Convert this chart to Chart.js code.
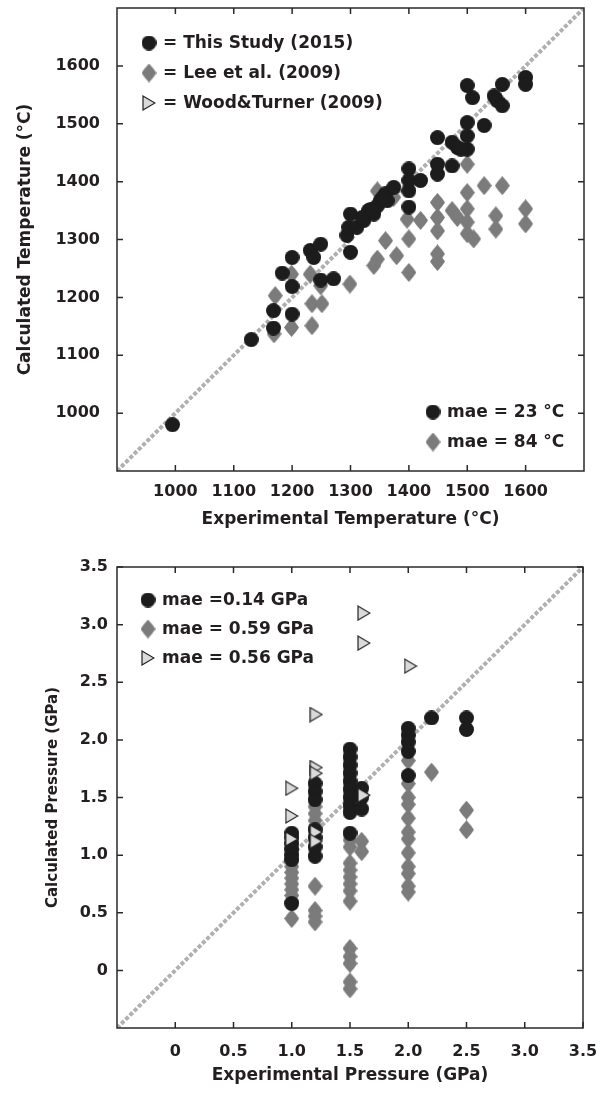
<!DOCTYPE html>
<html>
<head>
<meta charset="utf-8">
<title>Temperature and pressure: calculated vs experimental</title>
<script src="https://cdn.jsdelivr.net/npm/chart.js@4.4.1/dist/chart.umd.min.js"></script>
<style>
  html, body { margin: 0; padding: 0; background: #fff; }
  #wrap { position: relative; width: 603px; height: 1099px; }
  .panel { position: absolute; left: 0; width: 603px; }
  #panel-t { top: 0; height: 540px; }
  #panel-p { top: 540px; height: 559px; }
</style>
</head>
<body>
<div id="wrap">
  <div class="panel" id="panel-t"><canvas id="temp-chart"></canvas></div>
  <div class="panel" id="panel-p"><canvas id="pres-chart"></canvas></div>
</div>
<script>
// ---- temperature panel (°C) ----
const tempRange = [900, 1700];
const tempTicks = [1000, 1100, 1200, 1300, 1400, 1500, 1600];

const studyTExp = [
  995, 1130, 1168, 1168, 1200, 1200, 1183, 1200, 1231, 1237,
  1249, 1249, 1271, 1300, 1294, 1300, 1297, 1311, 1323, 1331,
  1340, 1346, 1351, 1360, 1374, 1363, 1320, 1335, 1355, 1400,
  1400, 1400, 1400, 1420, 1449, 1449, 1449, 1474, 1474, 1483,
  1500, 1500, 1500, 1489, 1529, 1500, 1509, 1546, 1551, 1560,
  1560, 1600, 1600
];
const studyTCalc = [
  980, 1127, 1147, 1177, 1171, 1219, 1242, 1269, 1281, 1269,
  1292, 1230, 1232, 1278, 1307, 1344, 1321, 1321, 1333, 1350,
  1344, 1358, 1367, 1379, 1390, 1367, 1338, 1352, 1372, 1422,
  1402, 1384, 1356, 1402, 1476, 1430, 1413, 1427, 1468, 1459,
  1502, 1479, 1456, 1456, 1497, 1566, 1545, 1548, 1540, 1568,
  1531, 1580, 1568
];
const leeTExp = [
  1171, 1169, 1199, 1199, 1231, 1234, 1251, 1234, 1249, 1299,
  1340, 1346, 1360, 1379, 1400, 1400, 1449, 1449, 1397, 1420,
  1449, 1449, 1449, 1474, 1483, 1500, 1500, 1500, 1500, 1511,
  1500, 1529, 1560, 1549, 1549, 1600, 1600, 1346, 1374
];
const leeTCalc = [
  1203, 1137, 1240, 1148, 1240, 1189, 1189, 1151, 1220, 1223,
  1255, 1266, 1298, 1272, 1301, 1243, 1275, 1262, 1335, 1333,
  1364, 1338, 1315, 1350, 1338, 1381, 1353, 1330, 1310, 1301,
  1430, 1393, 1393, 1341, 1318, 1353, 1327, 1384, 1373
];

// ---- pressure panel (GPa) ----
const presRange = [-0.5, 3.5];
const presTicks = [0, 0.5, 1.0, 1.5, 2.0, 2.5, 3.0, 3.5];
const presTickLabels = ['0', '0.5', '1.0', '1.5', '2.0', '2.5', '3.0', '3.5'];

const studyPExp = [
  1.0, 1.0, 1.0, 1.0, 1.0, 1.0, 1.0,
  1.2, 1.2, 1.2, 1.2, 1.2, 1.2, 1.2,
  1.5, 1.5, 1.5, 1.5, 1.5, 1.5, 1.5, 1.5, 1.5, 1.5,
  1.6, 1.6, 1.6,
  2.0, 2.0, 2.0, 2.0, 2.0,
  2.2,
  2.5, 2.5
];
const studyPCalc = [
  1.19, 1.15, 1.10, 1.05, 1.00, 0.96, 0.58,
  1.62, 1.55, 1.48, 1.22, 1.15, 1.07, 0.99,
  1.92, 1.85, 1.78, 1.71, 1.64, 1.57, 1.50, 1.43, 1.37, 1.19,
  1.58, 1.50, 1.40,
  2.10, 2.04, 1.98, 1.90, 1.69,
  2.19,
  2.19, 2.09
];
const leePExp = [
  1.0, 1.0, 1.0, 1.0, 1.0, 1.0, 1.0, 1.0, 1.0,
  1.2, 1.2, 1.2, 1.2, 1.2, 1.2, 1.2, 1.2,
  1.5, 1.5, 1.5, 1.5, 1.5, 1.5, 1.5, 1.5, 1.5, 1.5, 1.5, 1.5, 1.5,
  1.6, 1.6,
  2.0, 2.0, 2.0, 2.0, 2.0, 2.0, 2.0, 2.0, 2.0, 2.0, 2.0, 2.0,
  2.2,
  2.5, 2.5
];
const leePCalc = [
  0.95, 0.90, 0.85, 0.80, 0.75, 0.70, 0.65, 0.60, 0.45,
  1.42, 1.36, 1.30, 1.24, 0.73, 0.52, 0.47, 0.42,
  1.13, 1.07, 0.93, 0.87, 0.81, 0.75, 0.69, 0.60, 0.19, 0.12, 0.06, -0.10, -0.16,
  1.12, 1.03,
  1.82, 1.62, 1.50, 1.44, 1.32, 1.20, 1.14, 1.02, 0.90, 0.84, 0.73, 0.68,
  1.72,
  1.39, 1.22
];
const woodPExp = [1.0, 1.0, 1.0, 1.21, 1.21, 1.21, 1.21, 1.21, 1.62, 1.62, 2.02, 1.62];
const woodPCalc = [1.58, 1.34, 1.14, 2.22, 1.76, 1.71, 1.20, 1.12, 3.10, 2.84, 2.64, 1.52];

const FONT = "'DejaVu Sans', sans-serif";
const INK = '#231f20';

// marker glyphs, drawn once on small canvases
function makeCircle(d, color) {
  const c = document.createElement('canvas');
  c.width = d; c.height = d;
  const g = c.getContext('2d');
  g.fillStyle = color;
  g.beginPath();
  g.arc(d / 2, d / 2, d / 2, 0, Math.PI * 2);
  g.fill();
  return c;
}
// slightly bulging diamond, taller than wide
function makeDiamond(w, h, color) {
  const c = document.createElement('canvas');
  c.width = w; c.height = h;
  const g = c.getContext('2d');
  g.fillStyle = color;
  g.beginPath();
  g.moveTo(w / 2, 0);
  g.lineTo(w * 0.8, h * 0.28);
  g.lineTo(w, h / 2);
  g.lineTo(w * 0.8, h * 0.72);
  g.lineTo(w / 2, h);
  g.lineTo(w * 0.2, h * 0.72);
  g.lineTo(0, h / 2);
  g.lineTo(w * 0.2, h * 0.28);
  g.closePath();
  g.fill();
  return c;
}
function makeTriangle(w, h, fill, stroke) {
  const c = document.createElement('canvas');
  c.width = w; c.height = h;
  const g = c.getContext('2d');
  g.fillStyle = fill;
  g.strokeStyle = stroke;
  g.lineWidth = 1.2;
  g.beginPath();
  g.moveTo(1, 1);
  g.lineTo(w - 1, h / 2);
  g.lineTo(1, h - 1);
  g.closePath();
  g.fill();
  g.stroke();
  return c;
}

const dotBlack = makeCircle(15, '#1c1c1c');
const diamondGrey = makeDiamond(15, 19, '#7b7b7b');
const triLight = makeTriangle(14, 16, '#dadada', '#222');

const pairs = (xs, ys) => xs.map((x, i) => ({ x: x, y: ys[i] }));

// plot frame with inward ticks on all four sides
const framePlugin = {
  id: 'frame',
  afterDatasetsDraw(chart) {
    const { ctx, chartArea: a, scales: { x, y } } = chart;
    const len = 6;
    ctx.save();
    ctx.strokeStyle = '#2a2a2a';
    ctx.lineWidth = 1.5;
    ctx.beginPath();
    x.ticks.forEach(t => {
      const px = x.getPixelForValue(t.value);
      ctx.moveTo(px, a.bottom); ctx.lineTo(px, a.bottom - len);
      ctx.moveTo(px, a.top); ctx.lineTo(px, a.top + len);
    });
    y.ticks.forEach(t => {
      const py = y.getPixelForValue(t.value);
      ctx.moveTo(a.left, py); ctx.lineTo(a.left + len, py);
      ctx.moveTo(a.right, py); ctx.lineTo(a.right - len, py);
    });
    ctx.stroke();
    ctx.strokeRect(a.left, a.top, a.right - a.left, a.bottom - a.top);
    ctx.restore();
  }
};

// marker + text key blocks placed inside the plot
function keyPlugin(blocks) {
  return {
    id: 'key',
    afterDatasetsDraw(chart) {
      const ctx = chart.ctx;
      ctx.save();
      ctx.font = 'bold 17px ' + FONT;
      ctx.fillStyle = INK;
      ctx.textBaseline = 'middle';
      blocks.forEach(b => {
        b.items.forEach((it, i) => {
          const cy = b.y + i * b.step;
          ctx.drawImage(it.marker, b.x - it.marker.width / 2, cy - it.marker.height / 2);
          ctx.fillText(it.text, b.x + b.gap, cy + 1);
        });
      });
      ctx.restore();
    }
  };
}

function oneToOne(range) {
  return {
    type: 'line',
    data: pairs(range, range),
    borderColor: '#b0b0b0',
    borderWidth: 4,
    borderDash: [4, 2],
    pointRadius: 0,
    order: 4
  };
}

function scatterSet(data, marker, order) {
  return {
    type: 'scatter',
    data: data,
    pointStyle: marker,
    pointRadius: 7,
    order: order
  };
}

function axis(opts) {
  return {
    type: 'linear',
    min: opts.range[0],
    max: opts.range[1],
    afterBuildTicks: s => { s.ticks = opts.ticks.map(v => ({ value: v })); },
    afterFit: s => {
      if (opts.height) s.height = opts.height;
      if (opts.width) s.width = opts.width;
      // the plot box is fixed by layout padding alone
      s.paddingTop = 0; s.paddingBottom = 0;
      s.paddingLeft = 0; s.paddingRight = 0;
    },
    grid: { display: false, drawTicks: false },
    border: { display: false },
    ticks: {
      font: { family: FONT, size: 16, weight: 'bold' },
      color: INK,
      padding: opts.tickPad,
      callback: opts.labels ? (v, i) => opts.labels[i] : v => v
    },
    title: {
      display: true,
      text: opts.title,
      color: INK,
      font: { family: FONT, size: opts.titleSize, weight: 'bold' },
      padding: opts.titlePad
    }
  };
}

const baseOptions = (xAxis, yAxis, pad) => ({
  responsive: true,
  maintainAspectRatio: false,
  animation: false,
  events: [],
  layout: { padding: pad },
  plugins: { legend: { display: false }, tooltip: { enabled: false } },
  scales: { x: xAxis, y: yAxis }
});

new Chart(document.getElementById('temp-chart'), {
  type: 'scatter',
  data: {
    datasets: [
      scatterSet(pairs(studyTExp, studyTCalc), dotBlack, 2),
      scatterSet(pairs(leeTExp, leeTCalc), diamondGrey, 3),
      oneToOne(tempRange)
    ]
  },
  options: baseOptions(
    axis({ range: tempRange, ticks: tempTicks, height: 69, tickPad: 11,
           title: 'Experimental Temperature (°C)', titleSize: 17, titlePad: { top: 0, bottom: 10 } }),
    axis({ range: tempRange, ticks: tempTicks, width: 117, tickPad: 17,
           title: 'Calculated Temperature (°C)', titleSize: 17, titlePad: { top: 15, bottom: 0 } }),
    { top: 7, right: 19, bottom: 0, left: 0 }
  ),
  plugins: [framePlugin, keyPlugin([
    { x: 149, y: 43, step: 30, gap: 14, items: [
      { marker: dotBlack, text: '= This Study (2015)' },
      { marker: diamondGrey, text: '= Lee et al. (2009)' },
      { marker: triLight, text: '= Wood&Turner (2009)' }
    ] },
    { x: 433, y: 412, step: 30, gap: 14, items: [
      { marker: dotBlack, text: 'mae = 23 °C' },
      { marker: diamondGrey, text: 'mae = 84 °C' }
    ] }
  ])]
});

new Chart(document.getElementById('pres-chart'), {
  type: 'scatter',
  data: {
    datasets: [
      scatterSet(pairs(woodPExp, woodPCalc), triLight, 1),
      scatterSet(pairs(studyPExp, studyPCalc), dotBlack, 2),
      scatterSet(pairs(leePExp, leePCalc), diamondGrey, 3),
      oneToOne(presRange)
    ]
  },
  options: baseOptions(
    axis({ range: presRange, ticks: presTicks, labels: presTickLabels, height: 71, tickPad: 14,
           title: 'Experimental Pressure (GPa)', titleSize: 17, titlePad: { top: 0, bottom: 13 } }),
    axis({ range: presRange, ticks: presTicks, labels: presTickLabels, width: 117, tickPad: 9,
           title: 'Calculated Pressure (GPa)', titleSize: 15, titlePad: { top: 44, bottom: 0 } }),
    { top: 27, right: 20, bottom: 0, left: 0 }
  ),
  plugins: [framePlugin, keyPlugin([
    { x: 148, y: 60, step: 29, gap: 14, items: [
      { marker: dotBlack, text: 'mae =0.14 GPa' },
      { marker: diamondGrey, text: 'mae = 0.59 GPa' },
      { marker: triLight, text: 'mae = 0.56 GPa' }
    ] }
  ])]
});
</script>
</body>
</html>
